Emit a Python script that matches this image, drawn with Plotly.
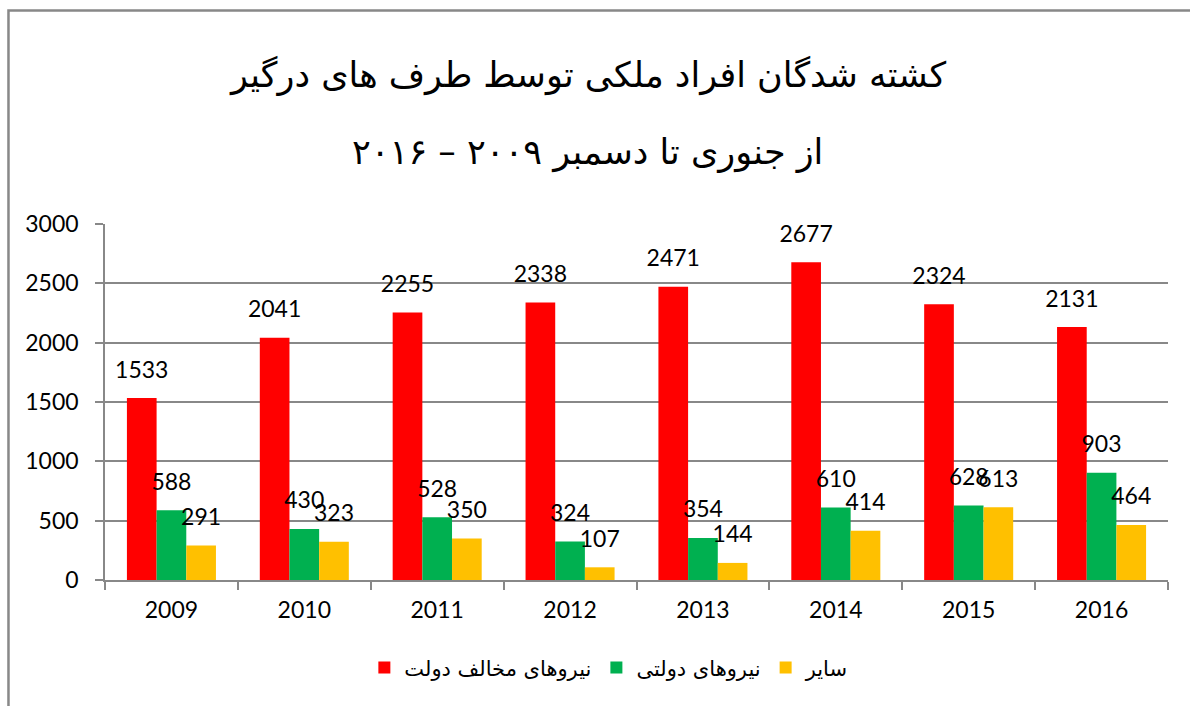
import plotly.graph_objects as go

years = ["2009", "2010", "2011", "2012", "2013", "2014", "2015", "2016"]
anti_gov = [1533, 2041, 2255, 2338, 2471, 2677, 2324, 2131]
pro_gov = [588, 430, 528, 324, 354, 610, 628, 903]
other = [291, 323, 350, 107, 144, 414, 613, 464]

series_names = ["نیروهای مخالف دولت", "نیروهای دولتی", "سایر"]
series_colors = ["#FF0000", "#00B050", "#FFC000"]
title_line1 = "کشته شدگان افراد ملکی توسط طرف های درگیر"
title_line2 = "از جنوری تا دسمبر ۲۰۰۹ – ۲۰۱۶"
y_ticks = [0, 500, 1000, 1500, 2000, 2500, 3000]

num_font = "Lato, 'Open Sans', sans-serif"
fa_font = "'DejaVu Sans', sans-serif"
grey = "#888888"

fig = go.Figure()
all_vals = [anti_gov, pro_gov, other]
for i, (name, vals, col) in enumerate(zip(series_names, all_vals, series_colors)):
    fig.add_trace(go.Bar(
        x=years, y=vals, name=name,
        marker=dict(color=col, line=dict(width=0)),
        offsetgroup=str(i), hoverinfo="skip",
    ))
for i, vals in enumerate(all_vals):
    fig.add_trace(go.Scatter(
        x=years, y=vals, mode="markers+text", showlegend=False,
        orientation="v", offsetgroup=str(i),
        marker=dict(size=22, opacity=0),
        text=[str(v) for v in vals], textposition="top center",
        textfont=dict(family=num_font, size=23, color="black"),
        cliponaxis=False,
    ))

fig.update_layout(
    width=1190, height=706,
    margin=dict(l=105, r=22, t=224, b=126),
    paper_bgcolor="white", plot_bgcolor="white",
    barmode="group", bargap=0.33, bargroupgap=0,
    scattermode="group", scattergap=0.33,
    showlegend=True,
    legend=dict(orientation="h", x=0.474, xanchor="center", y=-0.247, yanchor="middle",
                font=dict(family=fa_font, size=21, color="black"),
                itemsizing="constant", traceorder="normal"),
    font=dict(family=num_font, color="black"),
)
fig.update_xaxes(
    showline=True, linecolor=grey, linewidth=1.5,
    ticks="outside", tickson="boundaries", ticklen=8, tickcolor=grey, tickwidth=1.5,
    tickfont=dict(family=num_font, size=23, color="black"),
    ticklabelstandoff=9,
)
fig.update_yaxes(
    range=[0, 3000], tickvals=y_ticks,
    showline=True, linecolor=grey, linewidth=1.5,
    showgrid=True, gridcolor=grey, gridwidth=1.5,
    ticks="outside", ticklen=8, tickcolor=grey, tickwidth=1.5,
    tickfont=dict(family=num_font, size=23, color="black"),
    ticklabelstandoff=12, zeroline=False,
)

fig.add_annotation(text=title_line1, xref="paper", yref="paper", x=0.454, y=1.4185,
                   xanchor="center", yanchor="middle", showarrow=False,
                   font=dict(family=fa_font, size=35, color="black"))
fig.add_annotation(text=title_line2, xref="paper", yref="paper", x=0.454, y=1.202,
                   xanchor="center", yanchor="middle", showarrow=False,
                   font=dict(family=fa_font, size=35, color="black"))

fig.add_shape(type="rect", xref="paper", yref="paper",
              x0=-0.0908, x1=1.05, y0=-0.45, y1=1.5997,
              line=dict(color=grey, width=2.5), layer="below")

fig.write_html("out.html")
